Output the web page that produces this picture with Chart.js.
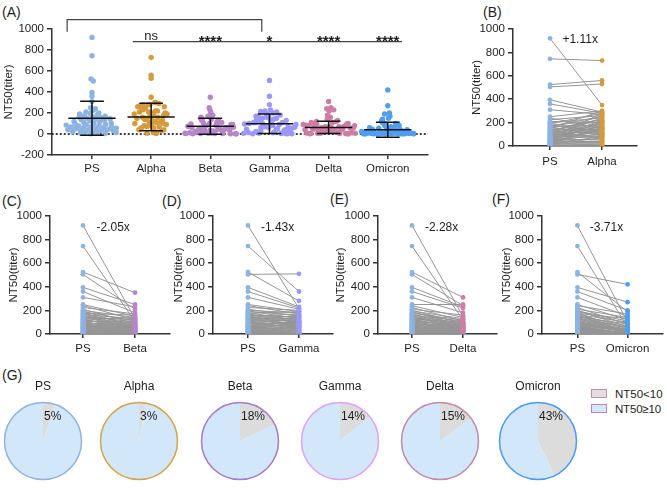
<!DOCTYPE html>
<html><head><meta charset="utf-8">
<script src="https://cdn.jsdelivr.net/npm/chart.js@4.4.1/dist/chart.umd.min.js"></script>
<style>
body{margin:0;background:#fff;width:667px;height:491px;position:relative;overflow:hidden;font-family:'Liberation Sans',Arial,sans-serif;color:#1e1e1e}
canvas{position:absolute}
.pl{position:absolute;font-size:14px;line-height:14px}
.lg{position:absolute;font-size:11.5px;line-height:12px;white-space:nowrap}
.bx{position:absolute;width:14px;height:7px;border:1.5px solid #c88aa8}
</style></head><body>
<div class="pl" style="left:2px;top:5px">(A)</div>
<div class="pl" style="left:483px;top:5px">(B)</div>
<div class="pl" style="left:2px;top:194px">(C)</div>
<div class="pl" style="left:162px;top:194px">(D)</div>
<div class="pl" style="left:330px;top:192px">(E)</div>
<div class="pl" style="left:492px;top:192px">(F)</div>
<div class="pl" style="left:2px;top:368px">(G)</div>
<div class="bx" style="left:591px;top:389px;background:#e0e0e0"></div>
<div class="lg" style="left:615px;top:388px">NT50&lt;10</div>
<div class="bx" style="left:591px;top:404px;background:#d4e8fb;border-color:#c483b6"></div>
<div class="lg" style="left:615px;top:403px;letter-spacing:-0.2px">NT50≥10</div>
<script>
// ---------- data ----------
const groups = ['PS','Alpha','Beta','Gamma','Delta','Omicron'];
const psVals = [920,745,525,505,395,360,310,250,240,225,210,200,195,190,182,175,170,165,160,155,150,145,140,135,130,125,120,115,110,105,100,96,92,88,85,80,76,72,70,66,62,60,56,52,50,46,42,40,36,32,30,26,22,20,18,15,12,8,5,3];
const alphaVals = [350,730,560,530,290,280,270,300,150,260,200,240,120,280,100,220,250,180,90,210,300,140,190,60,230,170,110,260,160,80,200,130,240,70,150,190,120,280,100,170,50,220,140,90,180,60,130,210,40,110,160,30,80,150,20,70,40,15,8,5];
const betaVals = [130,105,350,210,250,180,230,150,120,170,90,140,60,110,40,160,80,130,30,100,70,120,50,90,20,140,60,80,5,110,45,70,8,95,35,60,3,85,25,50,6,75,40,4,65,30,2,55,15,7,45,25,3,35,12,5,20,2,4,12];
const gammaVals = [215,360,280,510,230,220,210,190,170,200,150,180,130,160,110,190,90,140,120,70,170,100,150,60,130,80,110,40,160,95,50,120,30,85,140,5,100,65,20,110,4,75,45,90,8,55,100,3,35,70,6,45,25,2,60,15,7,30,3,12];
const deltaVals = [150,120,310,240,230,220,180,250,140,110,160,90,130,70,100,120,60,80,110,50,95,40,85,70,30,100,60,5,75,45,90,20,65,3,55,80,35,8,60,25,50,4,70,40,15,6,55,30,2,45,20,7,35,50,3,25,10,5,30,12];
const omicronVals = [100,60,190,420,270,200,150,120,170,80,140,60,110,90,8,130,50,100,5,70,45,85,3,60,35,55,9,40,15,30,12,25,18,14,40,30,25,20,2,6,4,7,1,5,3,8,2,6,4,9,1,5,3,7,2,6,4,1,3,2];
const variantVals = [alphaVals, betaVals, gammaVals, deltaVals, omicronVals];
const meanVals = [150,163,73,98,63,40];
const sdVals = [162,131,76,93,58,72];
const sigLabels = ['ns','****','*','****','****'];
const foldLabels = ['+1.11x','-2.05x','-1.43x','-2.28x','-3.71x'];
const pctBelow10 = [5,3,18,14,15,43];
const yTicksA = [-200,0,200,400,600,800,1000];
const yTicksPair = [0,200,400,600,800,1000];

// ---------- styles ----------
const dotColors = ['#8db3e2','#d49a3c','#b586c8','#9b98f8','#cd7ea4','#4e9ff0'];
const ringColors = ['#92b3dd','#d3a54a','#a67cc4','#e2a2ee','#c48aa8','#4a9cf0'];
const FONT = "'Liberation Sans', Arial, sans-serif";
Chart.defaults.font.family = FONT;
Chart.defaults.font.size = 11.5;
Chart.defaults.color = '#1e1e1e';
Chart.defaults.animation = false;
Chart.defaults.events = [];
Chart.defaults.plugins.legend.display = false;
Chart.defaults.plugins.tooltip.enabled = false;

function mk(left, top, w, h){
  const c = document.createElement('canvas');
  c.width = w; c.height = h;
  c.style.left = left+'px'; c.style.top = top+'px';
  c.style.width = w+'px'; c.style.height = h+'px';
  document.body.appendChild(c); return c;
}
function yAxis(w, tpad, min, ticks){
  return {type:'linear', min:min, max:1000, bounds:'data',
    afterBuildTicks: s => { s.ticks = ticks.map(v => ({value:v})); },
    ticks:{callback: v => String(v), color:'#1e1e1e', padding:3, font:{size:11.5}},
    grid:{drawOnChartArea:false, drawTicks:true, tickLength:5, color:'#333', lineWidth:1.5},
    border:{display:true, color:'#333', width:1.5},
    title:{display:true, text:'NT50(titer)', color:'#1e1e1e', font:{size:11.5}, padding:{top:tpad, bottom:0}},
    afterFit: s => { s.width = w; }
  };
}
function xAxis(min, max, labels, h, pad){
  return {type:'linear', min:min, max:max, bounds:'data',
    afterBuildTicks: s => { s.ticks = labels.map((l,i) => ({value:i})); },
    ticks:{callback: v => (labels[v] !== undefined ? labels[v] : ''), autoSkip:false, maxRotation:0, color:'#1e1e1e', padding:pad, font:{size:11.5}},
    grid:{drawOnChartArea:false, drawTicks:true, tickLength:4, color:'#333', lineWidth:1.5},
    border:{display:true, color:'#333', width:1.5},
    afterFit: s => { s.height = h; }
  };
}

// ---------- Panel A ----------
function jitter(vals, g){
  return vals.map((v,i) => {
    let n = 0; vals.forEach(w => { if (Math.abs(w - v) < 30) n++; });
    const spread = Math.min(0.45, 0.032*(n-1));
    const f = ((i*0.618034 + g*0.37) % 1)*2 - 1;
    return {x: g + spread*f, y: v};
  });
}
const allGroups = [psVals].concat(variantVals);
const dsA = allGroups.map((vals,g) => ({data: jitter(vals,g), backgroundColor: dotColors[g], pointRadius:2.7, borderWidth:0, order:2}));
const errData = [];
meanVals.forEach((m,g) => {
  const s = sdVals[g];
  errData.push({x:g-0.4,y:m},{x:g+0.4,y:m},{x:g,y:null},
               {x:g,y:m-s},{x:g,y:m+s},{x:g,y:null},
               {x:g-0.2,y:m+s},{x:g+0.2,y:m+s},{x:g,y:null},
               {x:g-0.2,y:m-s},{x:g+0.2,y:m-s},{x:g,y:null});
});
dsA.push({data: errData, showLine:true, spanGaps:false, borderColor:'#111', borderWidth:1.5, pointRadius:0, order:1});
dsA.push({data:[{x:-0.68,y:0},{x:5.68,y:0}], showLine:true, borderColor:'#111', borderWidth:1.6, borderDash:[2,2], pointRadius:0, order:3});

const sigPlugin = {id:'sig', afterDraw(chart){
  const ctx = chart.ctx, xs = chart.scales.x, ys = chart.scales.y;
  ctx.save();
  ctx.strokeStyle = '#444'; ctx.lineWidth = 1.2;
  const yTop = ys.getPixelForValue(1090), yTick = ys.getPixelForValue(975);
  const x1 = xs.getPixelForValue(-0.42), x2 = xs.getPixelForValue(2.87);
  ctx.beginPath(); ctx.moveTo(x1,yTick); ctx.lineTo(x1,yTop); ctx.lineTo(x2,yTop); ctx.lineTo(x2,yTick); ctx.stroke();
  const yL = ys.getPixelForValue(880);
  ctx.beginPath(); ctx.moveTo(xs.getPixelForValue(0.69), yL); ctx.lineTo(xs.getPixelForValue(5.24), yL); ctx.stroke();
  ctx.fillStyle = '#1e1e1e'; ctx.textAlign = 'center'; ctx.textBaseline = 'alphabetic';
  sigLabels.forEach((t,k) => {
    const x = xs.getPixelForValue(k+1);
    if (t === 'ns') { ctx.font = '13px ' + FONT; ctx.fillText(t, x, yL-2); }
    else { ctx.font = 'bold 15px ' + FONT; ctx.fillText(t, x, yL+4); }
  });
  ctx.restore();
}};

new Chart(mk(0,0,440,182), {type:'scatter', data:{datasets: dsA},
  options:{responsive:false, devicePixelRatio:1, layout:{padding:{left:0,top:29,right:12,bottom:0}},
    scales:{x: xAxis(-0.676, 5.68, groups, 27, 3), y: yAxis(52, 2, -200, yTicksA)}},
  plugins:[sigPlugin]});

// ---------- Panels B-F ----------
const foldPlugin = {id:'fold', afterDraw(chart){
  const ctx = chart.ctx, xs = chart.scales.x, ys = chart.scales.y;
  ctx.save(); ctx.fillStyle = '#1e1e1e'; ctx.font = '12px ' + FONT;
  ctx.textAlign = 'center'; ctx.textBaseline = 'middle';
  ctx.fillText(chart.options.foldText, xs.getPixelForValue(0.58), ys.getPixelForValue(905));
  ctx.restore();
}};
const pairLayout = [
  {left:468, top:0,   w:199, h:175, padTop:29, padRight:30, yW:45, xH:29, tpad:2, xmin:-0.712, xmax:1.673, lpad:5},
  {left:0,   top:190, w:180, h:170, padTop:26, padRight:10, yW:50, xH:26, tpad:7, xmin:-0.635, xmax:1.673, lpad:4},
  {left:163, top:190, w:180, h:170, padTop:26, padRight:10, yW:50, xH:26, tpad:9, xmin:-0.686, xmax:1.667, lpad:4},
  {left:328, top:190, w:179, h:170, padTop:26, padRight:10, yW:50, xH:26, tpad:6, xmin:-0.667, xmax:1.667, lpad:4},
  {left:492, top:190, w:175, h:170, padTop:26, padRight:2,  yW:50, xH:26, tpad:8, xmin:-0.706, xmax:1.706, lpad:4}
];
variantVals.forEach((vals,k) => {
  const L = pairLayout[k];
  const lineData = [];
  psVals.forEach((p,i) => { lineData.push({x:0,y:p},{x:1,y:vals[i]},{x:0.5,y:null}); });
  new Chart(mk(L.left, L.top, L.w, L.h), {type:'scatter', data:{datasets:[
      {data: psVals.map(v => ({x:0,y:v})), backgroundColor: dotColors[0], pointRadius:2.4, borderWidth:0, order:1},
      {data: vals.map(v => ({x:1,y:v})), backgroundColor: dotColors[k+1], pointRadius:2.4, borderWidth:0, order:1},
      {data: lineData, showLine:true, spanGaps:false, borderColor:'#959595', borderWidth:1, pointRadius:0, order:2}
    ]},
    options:{responsive:false, devicePixelRatio:1, foldText: foldLabels[k],
      layout:{padding:{left:0, top:L.padTop, right:L.padRight, bottom:0}},
      scales:{x: xAxis(L.xmin, L.xmax, ['PS', groups[k+1]], L.xH, L.lpad), y: yAxis(L.yW, L.tpad, 0, yTicksPair)}},
    plugins:[foldPlugin]});
});

// ---------- Panel G ----------
const pieCenters = [43, 139, 240, 340, 440, 538];
const piePlugin = {id:'pieDeco', afterDraw(chart){
  const ctx = chart.ctx, arc = chart.getDatasetMeta(0).data[0];
  const cx = arc.x, cy = arc.y, r = arc.outerRadius, k = chart.options.pieIndex;
  ctx.save();
  ctx.strokeStyle = ringColors[k]; ctx.lineWidth = 1.5;
  ctx.beginPath(); ctx.arc(cx, cy, r-0.5, 0, Math.PI*2); ctx.stroke();
  ctx.fillStyle = '#1e1e1e'; ctx.textBaseline = 'middle';
  ctx.font = '12px ' + FONT; ctx.textAlign = 'center';
  ctx.fillText(groups[k], cx, cy - r - 15);
  ctx.textAlign = 'left';
  ctx.fillText(pctBelow10[k] + '%', cx + 1, cy - 24);
  ctx.restore();
}};
groups.forEach((g,k) => {
  const cx = pieCenters[k];
  new Chart(mk(cx-50, 376, 100, 112), {type:'pie',
    data:{labels:['NT50<10','NT50≥10'], datasets:[{data:[pctBelow10[k], 100-pctBelow10[k]], backgroundColor:['#dcdcdc','#d3e7fa'], borderWidth:0}]},
    options:{responsive:false, devicePixelRatio:1, pieIndex:k, layout:{padding:{left:11,right:11,top:26,bottom:8}}},
    plugins:[piePlugin]});
});
</script>
</body></html>
